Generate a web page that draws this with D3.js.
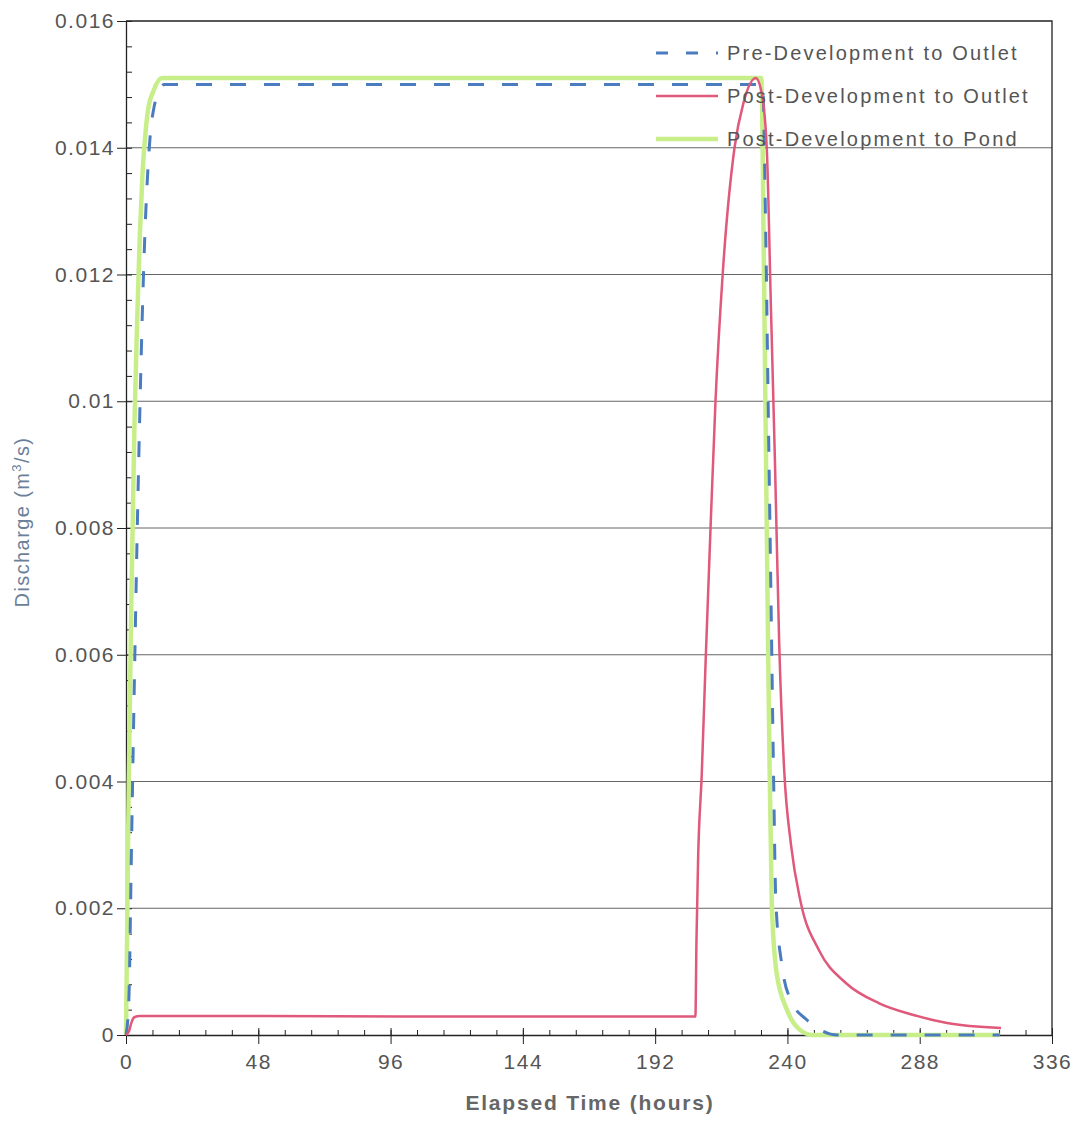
<!DOCTYPE html>
<html>
<head>
<meta charset="utf-8">
<script src="https://cdn.jsdelivr.net/npm/d3@7"></script>
<style>
  body { margin: 0; background: #fff; }
  svg { display: block; font-family: "Liberation Sans", Arial, sans-serif; }
  .tick text { fill: #555; }
</style>
</head>
<body>
<svg width="1074" height="1123"></svg>
<script>
// hours, m3/s
var preOutlet = [[0,0],[1,0.0005],[2,0.003],[3,0.0055],[4,0.0078],[5,0.0098],[6,0.0115],[7,0.0128],[8,0.0137],
  [9,0.0143],[10,0.0146],[12,0.0149],[14,0.0150],[100,0.0150],[200,0.0150],[231,0.0150],[232,0.0130],[233,0.0100],
  [234,0.0070],[235,0.0040],[235.8,0.0021],[238,0.0011],[241.2,0.00055],[247,0.00024],[252,0.00008],[258,0],[317,0]];

var postOutlet = [[0,0],[1,0.00005],[2,0.0002],[3,0.00028],[5,0.0003],[50,0.0003],[100,0.00029],[150,0.00029],
  [206.6,0.00029],[207,0.0015],[207.6,0.0028],[208.9,0.0041],[210.4,0.0060],[212.1,0.0080],[213.9,0.0100],
  [216.5,0.0120],[220.8,0.0140],[224,0.0147],[228.5,0.0151],[230.5,0.0149],[232.5,0.0140],[234,0.0115],
  [235.5,0.0090],[237,0.0062],[238.8,0.0042],[241.3,0.0030],[244.8,0.0021],[251.4,0.00134],[261.2,0.00082],
  [273.3,0.0005],[285.4,0.00032],[297.9,0.00019],[317.5,0.00011]];

var postPond = [[0,0],[0.5,0.002],[1,0.004],[2,0.007],[3,0.0095],[4,0.0112],[5,0.0126],[6,0.0136],[7,0.0142],
  [8,0.0146],[10,0.0149],[13,0.0151],[100,0.0151],[200,0.0151],[230.5,0.0151],[231.5,0.0120],[232.5,0.0080],
  [233.3,0.0050],[234.3,0.0021],[236,0.0010],[239.8,0.0004],[244,0.0001],[249,0],[317,0]];

var xTicks = [0, 48, 96, 144, 192, 240, 288, 336];
var yTicks = [0, 0.002, 0.004, 0.006, 0.008, 0.01, 0.012, 0.014, 0.016];
var seriesNames = ["Pre-Development to Outlet", "Post-Development to Outlet", "Post-Development to Pond"];

var svg = d3.select("svg");
var plotLeft = 126, plotRight = 1052, plotTop = 21, plotBottom = 1035;

var x = d3.scaleLinear().domain([0, 336]).range([plotLeft, plotRight]);
var y = d3.scaleLinear().domain([0, 0.016]).range([plotBottom, plotTop]);

// grid lines
svg.append("g")
  .selectAll("line")
  .data(yTicks.filter(function(d){ return d > 0 && d < 0.016; }))
  .enter().append("line")
  .attr("x1", plotLeft).attr("x2", plotRight)
  .attr("y1", function(d){ return y(d); }).attr("y2", function(d){ return y(d); })
  .attr("stroke", "#666").attr("stroke-width", 1);

// frame top + right
svg.append("path")
  .attr("d", "M" + plotLeft + "," + plotTop + "H" + plotRight + "V" + plotBottom)
  .attr("fill", "none").attr("stroke", "#222").attr("stroke-width", 1.3);

// minor ticks
var xMinor = d3.range(0, 336.01, 9.6);
var yMinor = d3.range(0, 0.01601, 0.0004);
svg.append("g").attr("transform", "translate(0," + plotBottom + ")")
  .call(d3.axisBottom(x).tickValues(xMinor).tickSize(-5).tickFormat(""))
  .call(function(g){ g.select(".domain").remove(); });
svg.append("g").attr("transform", "translate(" + plotLeft + ",0)")
  .call(d3.axisLeft(y).tickValues(yMinor).tickSize(-6).tickFormat(""))
  .call(function(g){ g.select(".domain").remove(); });

// major axes
var xAxis = svg.append("g").attr("transform", "translate(0," + plotBottom + ")")
  .call(d3.axisBottom(x).tickValues(xTicks).tickSize(9).tickSizeOuter(0).tickPadding(10));
svg.append("g").attr("transform", "translate(0," + plotBottom + ")")
  .call(d3.axisBottom(x).tickValues(xTicks).tickSize(-7).tickFormat(""))
  .call(function(g){ g.select(".domain").remove(); });
var yAxis = svg.append("g").attr("transform", "translate(" + plotLeft + ",0)")
  .call(d3.axisLeft(y).tickValues(yTicks).tickSize(9).tickSizeOuter(0).tickPadding(2)
    .tickFormat(function(d){ return String(+d.toFixed(3)); }));

svg.selectAll(".domain").attr("stroke", "#222").attr("stroke-width", 1.3);
svg.selectAll(".tick line").attr("stroke", "#222");
xAxis.selectAll("text").attr("font-size", 21).attr("letter-spacing", 1.5).attr("fill", "#555");
yAxis.selectAll("text").attr("font-size", 21).attr("letter-spacing", 1.5).attr("fill", "#555");

// series
var line = d3.line().curve(d3.curveMonotoneX)
  .x(function(d){ return x(d[0]); }).y(function(d){ return y(d[1]); });

svg.append("path").datum(postPond)
  .attr("d", line).attr("fill", "none")
  .attr("stroke", "#c8ee8a").attr("stroke-width", 4.5).attr("stroke-linejoin", "round");
svg.append("path").datum(preOutlet)
  .attr("d", line).attr("fill", "none")
  .attr("stroke", "#4a7cbf").attr("stroke-width", 3).attr("stroke-dasharray", "16,18");
svg.append("path").datum(postOutlet)
  .attr("d", line).attr("fill", "none")
  .attr("stroke", "#e0587a").attr("stroke-width", 2.5).attr("stroke-linejoin", "round");

// legend
var legendStyles = [
  { stroke: "#4a7cbf", width: 3, dash: "12,18" },
  { stroke: "#e0587a", width: 2.5, dash: null },
  { stroke: "#c8ee8a", width: 4.5, dash: null }
];
var legend = svg.append("g");
seriesNames.forEach(function(name, i) {
  var ly = 53 + i * 43;
  legend.append("line")
    .attr("x1", 656).attr("x2", 718).attr("y1", ly).attr("y2", ly)
    .attr("stroke", legendStyles[i].stroke)
    .attr("stroke-width", legendStyles[i].width)
    .attr("stroke-dasharray", legendStyles[i].dash);
  legend.append("text")
    .attr("x", 727).attr("y", ly).attr("dy", "0.35em")
    .attr("font-size", 20).attr("letter-spacing", 2.2)
    .attr("fill", "#555")
    .text(name);
});

// axis titles
svg.append("text")
  .attr("x", 590).attr("y", 1110)
  .attr("text-anchor", "middle")
  .attr("font-size", 21).attr("font-weight", "bold").attr("letter-spacing", 1.8)
  .attr("fill", "#666")
  .text("Elapsed Time (hours)");

var yt = svg.append("text")
  .attr("transform", "translate(29,522) rotate(-90)")
  .attr("text-anchor", "middle")
  .attr("font-size", 20).attr("letter-spacing", 1.4)
  .attr("fill", "#6b7f99");
yt.append("tspan").text("Discharge (m");
yt.append("tspan").attr("font-size", 13).attr("dy", -8).text("3");
yt.append("tspan").attr("dy", 8).text("/s)");
</script>
</body>
</html>
